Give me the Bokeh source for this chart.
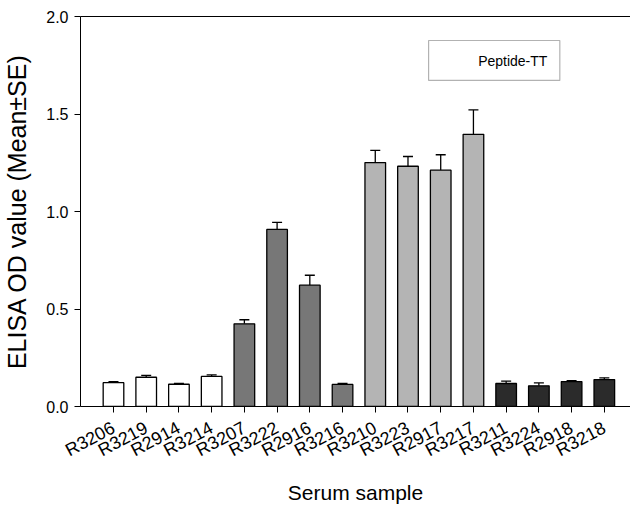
import math
from bokeh.plotting import figure
from bokeh.models import (ColumnDataSource, Range1d, FixedTicker, LinearAxis, Whisker,
                          TeeHead, BoxAnnotation, Label, CustomJSTickFormatter)
from bokeh.embed import file_html
from bokeh.resources import INLINE

samples = ["R3206", "R3219", "R2914", "R3214", "R3207", "R3222", "R2916", "R3216",
           "R3210", "R3223", "R2917", "R3217", "R3211", "R3224", "R2918", "R3218"]
means = [0.122, 0.150, 0.114, 0.154, 0.424, 0.908, 0.622, 0.113,
         1.251, 1.232, 1.212, 1.396, 0.118, 0.106, 0.128, 0.138]
errors = [0.005, 0.010, 0.005, 0.008, 0.021, 0.036, 0.051, 0.005,
          0.062, 0.050, 0.079, 0.125, 0.012, 0.015, 0.004, 0.009]
group_colors = ["#ffffff"] * 4 + ["#777777"] * 4 + ["#b4b4b4"] * 4 + ["#2b2b2b"] * 4
y_ticks = [0.0, 0.5, 1.0, 1.5, 2.0]
legend_label = "Peptide-TT"

xs = list(range(len(samples)))
src = ColumnDataSource(dict(
    x=xs, top=means, color=group_colors,
    upper=[m + e for m, e in zip(means, errors)],
))

FONT = "Liberation Sans"

p = figure(width=630, height=508, output_backend="svg", toolbar_location=None,
           x_range=Range1d(-1.008, 15.80), y_range=Range1d(0, 2.0),
           min_border_left=80, min_border_right=0, min_border_top=16, min_border_bottom=102)
p.outline_line_color = None
p.grid.visible = False
p.background_fill_color = "white"

p.vbar(x="x", top="top", bottom=0, width=0.63, source=src,
       fill_color="color", line_color="black", line_width=1.3)

wh = Whisker(base="x", lower="top", upper="upper", source=src,
             line_color="black", line_width=1.3,
             upper_head=TeeHead(size=10, line_color="black", line_width=1.3),
             lower_head=None)
p.add_layout(wh)

# axes
xa = p.xaxis[0]
xa.ticker = FixedTicker(ticks=xs)
xa.major_label_overrides = {i: s for i, s in enumerate(samples)}
xa.major_label_orientation = math.radians(28)
xa.major_label_text_font = FONT
xa.major_label_text_font_size = "18px"
xa.major_label_text_color = "black"
xa.minor_tick_line_color = None
xa.major_tick_out = 6
xa.major_tick_in = 0
xa.major_label_standoff = 14
xa.axis_label = "Serum sample"
xa.axis_label_text_font = FONT
xa.axis_label_text_font_size = "21px"
xa.axis_label_text_font_style = "normal"
xa.axis_label_text_color = "black"
xa.axis_label_standoff = 9
xa.axis_line_color = "black"
xa.major_tick_line_color = "black"

ya = p.yaxis[0]
ya.ticker = FixedTicker(ticks=y_ticks)
ya.formatter = CustomJSTickFormatter(code="return tick.toFixed(1);")
ya.major_label_text_font = FONT
ya.major_label_text_font_size = "16px"
ya.major_label_text_color = "black"
ya.minor_tick_line_color = None
ya.major_tick_out = 6
ya.major_tick_in = 0
ya.major_label_standoff = 6
ya.axis_label = "ELISA OD value (Mean\u00b1SE)"
ya.axis_label_text_font = FONT
ya.axis_label_text_font_size = "25px"
ya.axis_label_text_font_style = "normal"
ya.axis_label_text_color = "black"
ya.axis_label_standoff = 12
ya.axis_line_color = "black"
ya.major_tick_line_color = "black"

top_axis = LinearAxis(ticker=FixedTicker(ticks=[]), major_tick_line_color=None,
                      minor_tick_line_color=None, major_label_text_font_size="0px",
                      axis_line_color="black", major_label_standoff=0)
p.add_layout(top_axis, "above")

# legend box
p.add_layout(BoxAnnotation(left=9.63, right=13.64, bottom=1.672, top=1.877,
                           fill_color="white", fill_alpha=1.0,
                           line_color="black", line_width=1.2))
p.add_layout(Label(x=13.26, y=1.774, text=legend_label, text_align="right",
                   text_baseline="middle", text_font=FONT, text_font_size="14px",
                   text_color="black"))

open("out.html", "w").write(file_html(p, INLINE))
